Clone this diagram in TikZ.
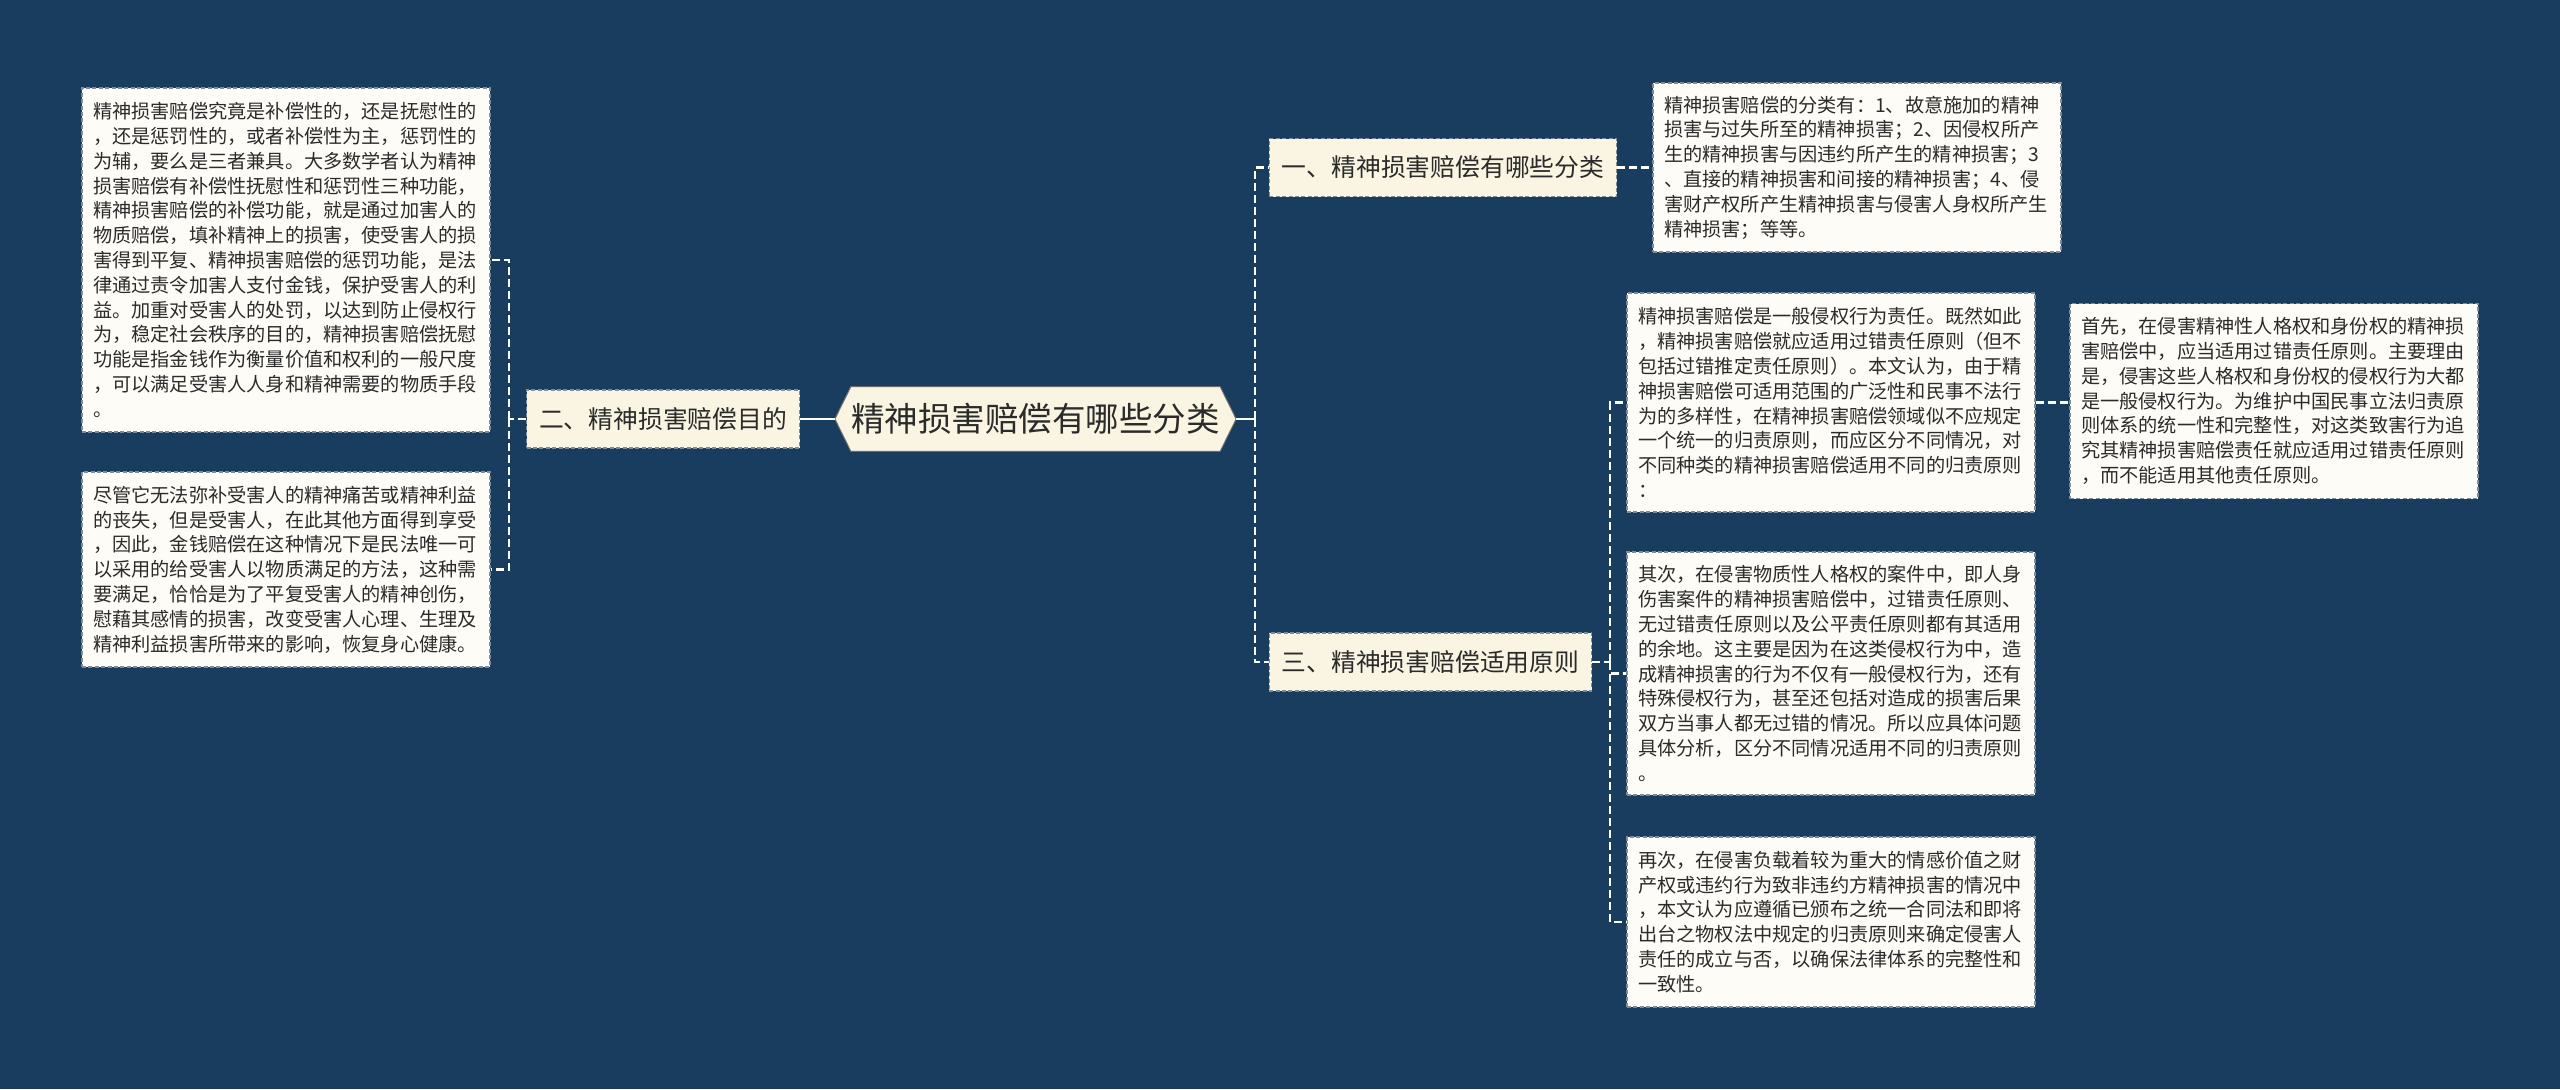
\documentclass[tikz,border=0pt]{standalone}
\usepackage{fontspec}
\setmainfont{Noto Sans CJK SC}
\usetikzlibrary{backgrounds,calc}
\definecolor{bg}{HTML}{193D5E}
\definecolor{cream}{HTML}{FAF5E2}
\definecolor{paper}{HTML}{FDFCF6}
\definecolor{edge}{HTML}{7F8B97}
\definecolor{ink}{HTML}{2B2B2B}
\tikzset{
  textbox/.style={draw=edge, dash pattern=on 2pt off 1.2pt, line width=0.6pt, fill=paper, text=ink,
    font=\fontsize{9.6pt}{12.4pt}\selectfont, text width=193pt, align=left, inner xsep=5.5pt, inner ysep=0pt},
  topic/.style={draw=edge, dash pattern=on 2pt off 1.2pt, line width=0.6pt, fill=cream, text=ink,
    font=\fontsize{12.4pt}{14pt}\selectfont, minimum height=29pt, inner xsep=6.25pt, inner ysep=0pt},
  hubnode/.style={text=ink, font=\fontsize{16.75pt}{18pt}\selectfont, minimum height=32pt, minimum width=183.5pt, inner sep=0pt},
  conn/.style={draw=white, line width=1.2pt, dash pattern=on 4pt off 2pt},
  stub/.style={draw=white, line width=1.2pt},
}
\begin{document}
\begin{tikzpicture}[x=0.5pt, y=-0.5pt]
\useasboundingbox (0,0) rectangle (2560,1089);

% central node
\node[hubnode] (hub) at (1035.5,419) {精神损害赔偿有哪些分类};

% level-1 topics
\node[topic] (b2) at (663,419) {二、精神损害赔偿目的};
\node[topic] (b1) at (1443,167.5) {一、精神损害赔偿有哪些分类};
\node[topic] (b3) at (1430.5,662) {三、精神损害赔偿适用原则};

% text boxes
\node[textbox, minimum height=172pt] (l1) at (286,260) {精神损害赔偿究竟是补偿性的，还是抚慰性的\\，还是惩罚性的，或者补偿性为主，惩罚性的\\为辅，要么是三者兼具。大多数学者认为精神\\损害赔偿有补偿性抚慰性和惩罚性三种功能，\\精神损害赔偿的补偿功能，就是通过加害人的\\物质赔偿，填补精神上的损害，使受害人的损\\害得到平复、精神损害赔偿的惩罚功能，是法\\律通过责令加害人支付金钱，保护受害人的利\\益。加重对受害人的处罚，以达到防止侵权行\\为，稳定社会秩序的目的，精神损害赔偿抚慰\\功能是指金钱作为衡量价值和权利的一般尺度\\，可以满足受害人人身和精神需要的物质手段\\。};
\node[textbox, minimum height=97.5pt] (l2) at (286,569.5) {尽管它无法弥补受害人的精神痛苦或精神利益\\的丧失，但是受害人，在此其他方面得到享受\\，因此，金钱赔偿在这种情况下是民法唯一可\\以采用的给受害人以物质满足的方法，这种需\\要满足，恰恰是为了平复受害人的精神创伤，\\慰藉其感情的损害，改变受害人心理、生理及\\精神利益损害所带来的影响，恢复身心健康。};
\node[textbox, minimum height=84.5pt] (r1) at (1857,167.5) {精神损害赔偿的分类有：1、故意施加的精神\\损害与过失所至的精神损害；2、因侵权所产\\生的精神损害与因违约所产生的精神损害；3\\、直接的精神损害和间接的精神损害；4、侵\\害财产权所产生精神损害与侵害人身权所产生\\精神损害；等等。};
\node[textbox, minimum height=109.5pt] (m1) at (1831,402.5) {精神损害赔偿是一般侵权行为责任。既然如此\\，精神损害赔偿就应适用过错责任原则（但不\\包括过错推定责任原则）。本文认为，由于精\\神损害赔偿可适用范围的广泛性和民事不法行\\为的多样性，在精神损害赔偿领域似不应规定\\一个统一的归责原则，而应区分不同情况，对\\不同种类的精神损害赔偿适用不同的归责原则\\：};
\node[textbox, minimum height=97.5pt] (f1) at (2274,401) {首先，在侵害精神性人格权和身份权的精神损\\害赔偿中，应当适用过错责任原则。主要理由\\是，侵害这些人格权和身份权的侵权行为大都\\是一般侵权行为。为维护中国民事立法归责原\\则体系的统一性和完整性，对这类致害行为追\\究其精神损害赔偿责任就应适用过错责任原则\\，而不能适用其他责任原则。};
\node[textbox, minimum height=121.5pt] (m2) at (1831,673.5) {其次，在侵害物质性人格权的案件中，即人身\\伤害案件的精神损害赔偿中，过错责任原则、\\无过错责任原则以及公平责任原则都有其适用\\的余地。这主要是因为在这类侵权行为中，造\\成精神损害的行为不仅有一般侵权行为，还有\\特殊侵权行为，甚至还包括对造成的损害后果\\双方当事人都无过错的情况。所以应具体问题\\具体分析，区分不同情况适用不同的归责原则\\。};
\node[textbox, minimum height=85pt] (m3) at (1831,922) {再次，在侵害负载着较为重大的情感价值之财\\产权或违约行为致非违约方精神损害的情况中\\，本文认为应遵循已颁布之统一合同法和即将\\出台之物权法中规定的归责原则来确定侵害人\\责任的成立与否，以确保法律体系的完整性和\\一致性。};

% background and hub shape
\begin{scope}[on background layer]
  \fill[bg] (0,0) rectangle (2560,1089);
  \fill[cream, draw=ink!70, line width=0.5pt] ([xshift=-8pt]hub.west) -- (hub.north west) -- (hub.north east)
     -- ([xshift=8pt]hub.east) -- (hub.south east) -- (hub.south west) -- cycle;
\end{scope}

% junctions
\coordinate (hubL) at ([xshift=-8pt]hub.west);
\coordinate (hubR) at ([xshift=8pt]hub.east);
\coordinate (jl) at (509,419);
\coordinate (jr) at (1255,419);
\coordinate (j3) at (1610,662);

% connectors
\draw[stub] (hubL) -- (b2.east);
\draw[conn] (b2.west) -- (jl);
\draw[conn] (jl) |- (l1.east);
\draw[conn] (jl) |- (l2.east);
\draw[stub] (hubR) -- (jr);
\draw[conn] (jr) |- (b1.west);
\draw[conn] (jr) |- (b3.west);
\draw[conn] (b1.east) -- (r1.west);
\draw[conn] (b3.east) -- (j3);
\draw[conn] (j3) |- (m1.west);
\draw[conn] (j3) |- (m2.west);
\draw[conn] (j3) |- (m3.west);
\draw[conn] (m1.east) -- (m1.east -| f1.west);
\end{tikzpicture}
\end{document}
